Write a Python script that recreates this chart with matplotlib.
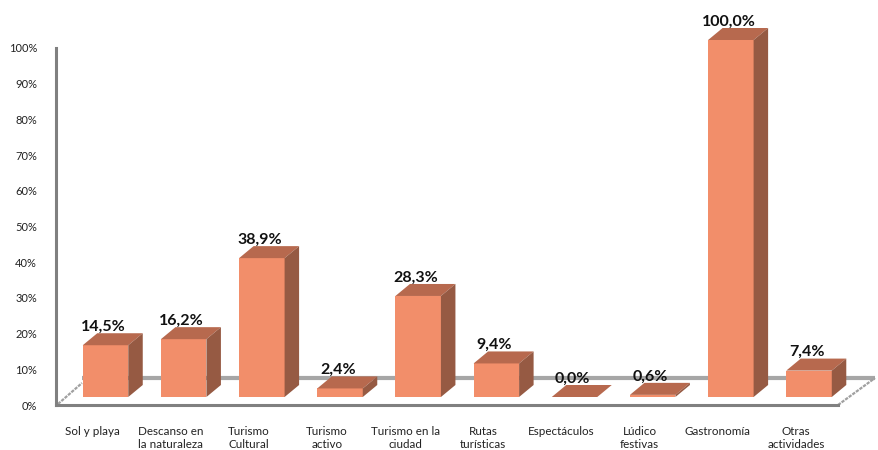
import matplotlib
matplotlib.use('Agg')
import matplotlib.pyplot as plt

categories = ['Sol y playa', 'Descanso en\nla naturaleza', 'Turismo\nCultural', 'Turismo\nactivo',
              'Turismo en la\nciudad', 'Rutas\nturísticas', 'Espectáculos', 'Lúdico\nfestivas',
              'Gastronomía', 'Otras\nactividades']
values = [14.5, 16.2, 38.9, 2.4, 28.3, 9.4, 0.0, 0.6, 100.0, 7.4]
value_labels = ['14,5%', '16,2%', '38,9%', '2,4%', '28,3%', '9,4%', '0,0%', '0,6%', '100,0%', '7,4%']
yticks = [0, 10, 20, 30, 40, 50, 60, 70, 80, 90, 100]

plt.rcParams['font.family'] = ['Lato', 'DejaVu Sans']

W, H = 879, 450
fig = plt.figure(figsize=(W / 100, H / 100), dpi=100)
# axes box in pixels: x 56-838, y 48-405
ax = fig.add_axes([56 / W, 1 - 405 / H, (838 - 56) / W, (405 - 48) / H])

pitch = 78.17     # px between bars
ypx = 3.57        # px per percent
x0 = 105.5        # px of first bar centre
ax.set_xlim((56 - x0) / pitch, (838 - x0) / pitch)
ax.set_ylim(0, 100)

base = 8 / ypx
width = 45.5 / pitch
dx = 14.5 / pitch
dy = 12 / ypx

front = '#F28E6A'
top = '#B7694E'
side = '#965A43'

# floor
ax.plot([(82 - x0) / pitch, (875 - x0) / pitch], [27 / ypx, 27 / ypx], color='#A6A6A6', lw=3,
        clip_on=False, zorder=1, solid_capstyle='butt')
ax.plot([(58 - x0) / pitch, (82 - x0) / pitch], [1 / ypx, 22 / ypx], color='#A0A0A0', lw=1.6,
        ls=(0, (1.5, 0.5)), clip_on=False, zorder=1)
ax.plot([(838 - x0) / pitch, (875 - x0) / pitch], [0, 27 / ypx], color='#A0A0A0', lw=1.6,
        ls=(0, (1.5, 0.5)), clip_on=False, zorder=1)

xs = list(range(len(values)))
ax.bar(xs, values, width=width, bottom=base, color=front, zorder=3, clip_on=False)
for x, v, lab in zip(xs, values, value_labels):
    l, r = x - width / 2, x + width / 2
    t = base + v
    ax.fill([l, r, r + dx, l + dx], [t, t, t + dy, t + dy], color=top, lw=0, zorder=3, clip_on=False)
    ax.fill([r, r + dx, r + dx, r], [base, base + dy, t + dy, t], color=side, lw=0, zorder=3, clip_on=False)
    ax.text(x - 2 / pitch, t + dy + 2.5 / ypx, lab, ha='center', va='baseline', fontsize=11.5,
            fontweight='bold', color='#111111', zorder=4)

ax.set_yticks(yticks)
ax.set_yticklabels([f'{y}%' for y in yticks], fontsize=8, color='#222222')
# category labels sit left of the bars in the original
ax.set_xticks([x - 13 / pitch for x in xs])
ax.set_xticklabels(categories, fontsize=8.4, color='#222222', linespacing=1.25)
ax.tick_params(axis='y', length=0, pad=19 * 0.72)
ax.tick_params(axis='x', length=0, pad=21 * 0.72)

for s in ['top', 'right']:
    ax.spines[s].set_visible(False)
for s in ['left', 'bottom']:
    ax.spines[s].set_color('#808080')
    ax.spines[s].set_linewidth(2.2)

fig.savefig('out.png', dpi=100)
